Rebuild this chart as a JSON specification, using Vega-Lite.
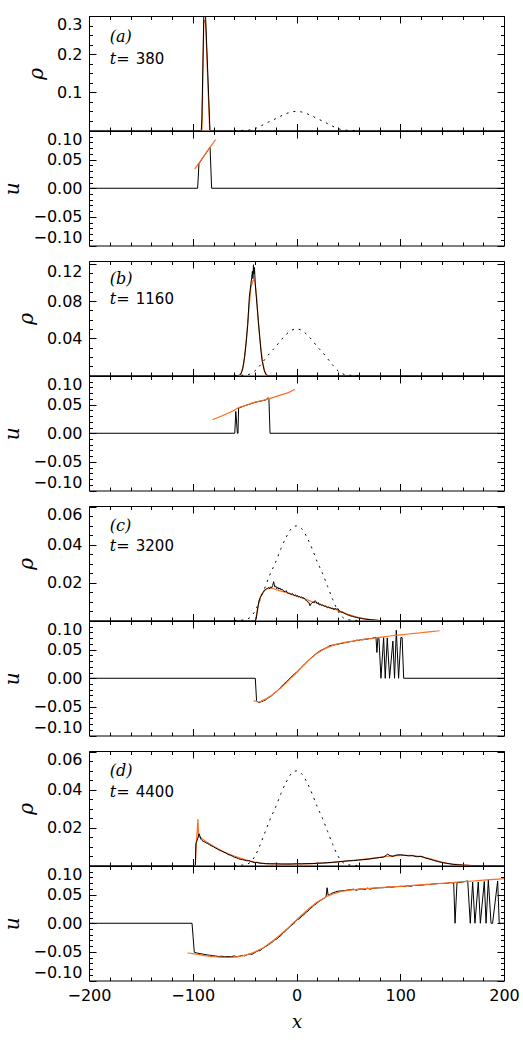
{
"$schema": "https://vega.github.io/schema/vega-lite/v6.json",
"padding": {"left": 2, "top": 15, "right": 10, "bottom": 5},
"spacing": 11,
"config": {
  "view": {"stroke": "black", "strokeWidth": 1},
  "axis": {"domain": false, "grid": false, "tickColor": "black", "tickWidth": 1, "labelColor": "black", "labelFont": "DejaVu Sans", "labelFontSize": 16, "labelOverlap": false, "labelBound": false, "titleFont": "DejaVu Serif", "titleFontStyle": "italic", "titleFontWeight": "normal", "titleFontSize": 20, "titleColor": "black", "labelPadding": 14, "titlePadding": 10}
},
"datasets": {
  "ini": [{"x":-60,"y":0},{"x":-55,"y":0.0001},{"x":-50,"y":0.0004},{"x":-45,"y":0.0015},{"x":-40,"y":0.005},{"x":-35,"y":0.011},{"x":-30,"y":0.018},{"x":-25,"y":0.025},{"x":-20,"y":0.031},{"x":-15,"y":0.038},{"x":-10,"y":0.044},{"x":-5,"y":0.0485},{"x":0,"y":0.05},{"x":5,"y":0.0485},{"x":10,"y":0.044},{"x":15,"y":0.038},{"x":20,"y":0.031},{"x":25,"y":0.025},{"x":30,"y":0.018},{"x":35,"y":0.011},{"x":40,"y":0.005},{"x":45,"y":0.0015},{"x":50,"y":0.0004},{"x":55,"y":0.0001},{"x":60,"y":0}],
  "ar_sim": [{"x":-200,"y":0},{"x":-91.8,"y":0},{"x":-91.2,"y":0.03},{"x":-89.3,"y":0.31},{"x":-87.8,"y":0.31},{"x":-85.5,"y":0.15},{"x":-83.4,"y":0},{"x":200,"y":0}],
  "ar_th": [{"x":-91.1,"y":0},{"x":-89.4,"y":0.28},{"x":-88.5,"y":0.29},{"x":-87.6,"y":0.28},{"x":-84,"y":0.02},{"x":-83.6,"y":0}],
  "ua_sim": [{"x":-200,"y":0},{"x":-95.3,"y":0},{"x":-94,"y":0.043},{"x":-83.3,"y":0.072},{"x":-81.8,"y":0},{"x":200,"y":0}],
  "ua_th": [{"x":-98,"y":0.034},{"x":-78,"y":0.085}],
  "rb_sim": [{"x":-200,"y":0},{"x":-56,"y":0},{"x":-54,"y":0.001},{"x":-52,"y":0.006},{"x":-50,"y":0.02},{"x":-48.7,"y":0.034},{"x":-47,"y":0.055},{"x":-45.5,"y":0.084},{"x":-44,"y":0.098},{"x":-43.2,"y":0.105},{"x":-42.5,"y":0.112},{"x":-42,"y":0.104},{"x":-41.5,"y":0.119},{"x":-41,"y":0.109},{"x":-40.5,"y":0.116},{"x":-39.8,"y":0.1},{"x":-39,"y":0.088},{"x":-38,"y":0.075},{"x":-36.8,"y":0.059},{"x":-35.5,"y":0.042},{"x":-34.2,"y":0.026},{"x":-33,"y":0.015},{"x":-31,"y":0.005},{"x":-29.5,"y":0.001},{"x":-28,"y":0},{"x":200,"y":0}],
  "rb_th": [{"x":-54,"y":0},{"x":-51,"y":0.012},{"x":-48.5,"y":0.035},{"x":-46,"y":0.07},{"x":-44,"y":0.094},{"x":-42,"y":0.102},{"x":-41,"y":0.103},{"x":-40,"y":0.1},{"x":-38.5,"y":0.085},{"x":-37,"y":0.06},{"x":-35,"y":0.036},{"x":-33,"y":0.017},{"x":-31,"y":0.006},{"x":-29,"y":0.001},{"x":-27,"y":0}],
  "ub_sim": [{"x":-200,"y":0},{"x":-59.5,"y":0},{"x":-58.5,"y":0.038},{"x":-57,"y":0},{"x":-56.4,"y":0},{"x":-55.8,"y":0.044},{"x":-50,"y":0.048},{"x":-45,"y":0.051},{"x":-40,"y":0.054},{"x":-35,"y":0.056},{"x":-30,"y":0.058},{"x":-28,"y":0.061},{"x":-27.2,"y":0.062},{"x":-26.6,"y":0.06},{"x":-25.5,"y":0},{"x":200,"y":0}],
  "ub_th": [{"x":-81,"y":0.024},{"x":-70,"y":0.032},{"x":-60,"y":0.04},{"x":-56.5,"y":0.044},{"x":-50,"y":0.048},{"x":-40.7,"y":0.054},{"x":-33,"y":0.057},{"x":-27.2,"y":0.06},{"x":-20,"y":0.064},{"x":-14.9,"y":0.067},{"x":-8,"y":0.071},{"x":-1.4,"y":0.077}],
  "rc_sim": [{"x":-200,"y":0},{"x":-40,"y":0},{"x":-39,"y":0.0005},{"x":-38,"y":0.004},{"x":-37,"y":0.0075},{"x":-36,"y":0.0105},{"x":-35,"y":0.012},{"x":-34,"y":0.013},{"x":-33,"y":0.0143},{"x":-32,"y":0.0148},{"x":-31,"y":0.016},{"x":-30,"y":0.0162},{"x":-29,"y":0.0168},{"x":-28,"y":0.017},{"x":-27,"y":0.0175},{"x":-26,"y":0.0168},{"x":-25,"y":0.0178},{"x":-24,"y":0.0172},{"x":-23,"y":0.0185},{"x":-22,"y":0.0205},{"x":-21,"y":0.0178},{"x":-20,"y":0.0182},{"x":-19,"y":0.0168},{"x":-18,"y":0.0176},{"x":-17,"y":0.0165},{"x":-16,"y":0.0172},{"x":-15,"y":0.0162},{"x":-14,"y":0.0166},{"x":-13,"y":0.0158},{"x":-12,"y":0.0155},{"x":-11,"y":0.0152},{"x":-10,"y":0.0158},{"x":-9,"y":0.0148},{"x":-8,"y":0.0143},{"x":-7,"y":0.0146},{"x":-6,"y":0.014},{"x":-5,"y":0.0138},{"x":-4,"y":0.0143},{"x":-3,"y":0.0135},{"x":-2,"y":0.0132},{"x":-1,"y":0.0136},{"x":0,"y":0.0128},{"x":1,"y":0.0132},{"x":2,"y":0.0124},{"x":3,"y":0.0127},{"x":4,"y":0.0121},{"x":5,"y":0.0125},{"x":6,"y":0.0117},{"x":7,"y":0.012},{"x":8,"y":0.0113},{"x":9,"y":0.0108},{"x":10,"y":0.0102},{"x":11,"y":0.0098},{"x":12,"y":0.0095},{"x":13,"y":0.0078},{"x":14,"y":0.0088},{"x":15,"y":0.0094},{"x":16,"y":0.0098},{"x":17,"y":0.0094},{"x":18,"y":0.0105},{"x":19,"y":0.0098},{"x":20,"y":0.0089},{"x":21,"y":0.0095},{"x":22,"y":0.0082},{"x":23,"y":0.0086},{"x":24,"y":0.0079},{"x":25,"y":0.0083},{"x":26,"y":0.0077},{"x":27,"y":0.0074},{"x":28,"y":0.0077},{"x":29,"y":0.007},{"x":30,"y":0.0068},{"x":31,"y":0.0072},{"x":32,"y":0.0065},{"x":33,"y":0.0067},{"x":34,"y":0.0062},{"x":35,"y":0.0066},{"x":36,"y":0.0056},{"x":37,"y":0.0064},{"x":38,"y":0.0062},{"x":39,"y":0.0058},{"x":40,"y":0.0063},{"x":41,"y":0.0052},{"x":42,"y":0.0047},{"x":43,"y":0.0043},{"x":44,"y":0.0045},{"x":46,"y":0.0038},{"x":48,"y":0.0033},{"x":50,"y":0.0028},{"x":52,"y":0.0024},{"x":54,"y":0.0022},{"x":56,"y":0.0018},{"x":58,"y":0.0016},{"x":60,"y":0.0013},{"x":62,"y":0.0012},{"x":64,"y":0.0009},{"x":66,"y":0.0008},{"x":68,"y":0.0006},{"x":70,"y":0.0005},{"x":72,"y":0.0004},{"x":75,"y":0.0002},{"x":78,"y":0.0001},{"x":80,"y":0},{"x":200,"y":0}],
  "rc_th": [{"x":-39.5,"y":0},{"x":-38,"y":0.005},{"x":-36,"y":0.0105},{"x":-34,"y":0.0135},{"x":-31,"y":0.0158},{"x":-28,"y":0.0168},{"x":-25,"y":0.0172},{"x":-22,"y":0.0168},{"x":-18,"y":0.016},{"x":-14,"y":0.0154},{"x":-10,"y":0.0148},{"x":-5,"y":0.0138},{"x":0,"y":0.0129},{"x":5,"y":0.012},{"x":10,"y":0.011},{"x":15,"y":0.0099},{"x":20,"y":0.0091},{"x":25,"y":0.0081},{"x":30,"y":0.0072},{"x":35,"y":0.0063},{"x":40,"y":0.0054},{"x":45,"y":0.0043},{"x":50,"y":0.0032},{"x":55,"y":0.0023},{"x":60,"y":0.0016},{"x":65,"y":0.001},{"x":70,"y":0.0006},{"x":75,"y":0.0003},{"x":80,"y":0}],
  "uc_sim": [{"x":-200,"y":0},{"x":-39.7,"y":0},{"x":-38.5,"y":-0.039},{"x":-37,"y":-0.042},{"x":-35.8,"y":-0.0426},{"x":-34,"y":-0.041},{"x":-32,"y":-0.0395},{"x":-30,"y":-0.038},{"x":-28,"y":-0.035},{"x":-26,"y":-0.033},{"x":-24,"y":-0.0305},{"x":-22,"y":-0.027},{"x":-20,"y":-0.024},{"x":-18,"y":-0.021},{"x":-16,"y":-0.017},{"x":-14,"y":-0.0135},{"x":-12,"y":-0.0095},{"x":-10,"y":-0.0065},{"x":-8,"y":-0.003},{"x":-6,"y":0.001},{"x":-4,"y":0.0045},{"x":-2,"y":0.0075},{"x":0,"y":0.0105},{"x":2,"y":0.014},{"x":4,"y":0.018},{"x":6,"y":0.0215},{"x":8,"y":0.025},{"x":10,"y":0.0285},{"x":12,"y":0.032},{"x":14,"y":0.0355},{"x":16,"y":0.0385},{"x":18,"y":0.0415},{"x":20,"y":0.0445},{"x":22,"y":0.047},{"x":24,"y":0.049},{"x":26,"y":0.051},{"x":28,"y":0.0525},{"x":30,"y":0.0545},{"x":32,"y":0.057},{"x":34,"y":0.0575},{"x":36,"y":0.058},{"x":38,"y":0.059},{"x":40,"y":0.0595},{"x":42,"y":0.0605},{"x":44,"y":0.061},{"x":46,"y":0.062},{"x":48,"y":0.0625},{"x":50,"y":0.0635},{"x":52,"y":0.064},{"x":54,"y":0.0645},{"x":56,"y":0.065},{"x":58,"y":0.0665},{"x":60,"y":0.066},{"x":62,"y":0.0675},{"x":64,"y":0.067},{"x":66,"y":0.0685},{"x":68,"y":0.068},{"x":70,"y":0.0695},{"x":72,"y":0.069},{"x":74,"y":0.0705},{"x":76.6,"y":0.0715},{"x":77.5,"y":0.045},{"x":78.5,"y":0.071},{"x":79.5,"y":0.069},{"x":81.4,"y":0},{"x":84,"y":0.071},{"x":85.5,"y":0},{"x":87.5,"y":0.0705},{"x":89.7,"y":0},{"x":92.9,"y":0.065},{"x":94.5,"y":0},{"x":96.2,"y":0.0838},{"x":98.4,"y":0},{"x":100.6,"y":0.071},{"x":101.8,"y":0.071},{"x":103.3,"y":0},{"x":200,"y":0}],
  "uc_th": [{"x":-41.3,"y":-0.039},{"x":-38,"y":-0.041},{"x":-36,"y":-0.0415},{"x":-33,"y":-0.039},{"x":-30,"y":-0.0365},{"x":-25,"y":-0.031},{"x":-20,"y":-0.024},{"x":-15,"y":-0.0165},{"x":-10,"y":-0.008},{"x":-5,"y":0.001},{"x":0,"y":0.0095},{"x":5,"y":0.019},{"x":10,"y":0.028},{"x":15,"y":0.0365},{"x":20,"y":0.0435},{"x":25,"y":0.0495},{"x":30,"y":0.054},{"x":35,"y":0.0575},{"x":40,"y":0.06},{"x":45,"y":0.062},{"x":50,"y":0.0635},{"x":55,"y":0.065},{"x":60,"y":0.0665},{"x":70,"y":0.069},{"x":80,"y":0.0715},{"x":90,"y":0.0738},{"x":100,"y":0.0758},{"x":110,"y":0.0777},{"x":120,"y":0.0795},{"x":130,"y":0.0815},{"x":138,"y":0.083}],
  "rd_sim": [{"x":-200,"y":0},{"x":-97.5,"y":0},{"x":-97,"y":0.0114},{"x":-96,"y":0.013},{"x":-95,"y":0.0145},{"x":-94,"y":0.0168},{"x":-93,"y":0.0155},{"x":-92,"y":0.0138},{"x":-91,"y":0.0132},{"x":-90,"y":0.0128},{"x":-89,"y":0.0126},{"x":-88,"y":0.0122},{"x":-86,"y":0.0117},{"x":-84,"y":0.011},{"x":-82,"y":0.0104},{"x":-80,"y":0.0099},{"x":-78,"y":0.0092},{"x":-76,"y":0.0086},{"x":-74,"y":0.008},{"x":-72,"y":0.0076},{"x":-70,"y":0.007},{"x":-68,"y":0.0066},{"x":-66,"y":0.0058},{"x":-64,"y":0.0055},{"x":-62,"y":0.005},{"x":-60,"y":0.0044},{"x":-58,"y":0.0041},{"x":-56,"y":0.0036},{"x":-54,"y":0.0032},{"x":-52,"y":0.0031},{"x":-50,"y":0.0028},{"x":-48,"y":0.0025},{"x":-46,"y":0.0026},{"x":-44,"y":0.0021},{"x":-42,"y":0.0018},{"x":-40,"y":0.0014},{"x":-38,"y":0.0017},{"x":-36,"y":0.0013},{"x":-34,"y":0.0012},{"x":-32,"y":0.0011},{"x":-30,"y":0.001},{"x":-25,"y":0.0009},{"x":-20,"y":0.0009},{"x":-15,"y":0.0008},{"x":-10,"y":0.0008},{"x":-5,"y":0.0008},{"x":0,"y":0.0009},{"x":5,"y":0.0009},{"x":10,"y":0.001},{"x":15,"y":0.001},{"x":20,"y":0.0012},{"x":25,"y":0.0013},{"x":30,"y":0.0015},{"x":35,"y":0.0017},{"x":40,"y":0.0019},{"x":45,"y":0.0022},{"x":50,"y":0.0025},{"x":55,"y":0.0026},{"x":60,"y":0.0029},{"x":65,"y":0.0031},{"x":70,"y":0.0034},{"x":75,"y":0.0038},{"x":80,"y":0.0042},{"x":84,"y":0.0045},{"x":88,"y":0.006},{"x":90,"y":0.0052},{"x":93,"y":0.0048},{"x":96,"y":0.0055},{"x":100,"y":0.0057},{"x":104,"y":0.0054},{"x":108,"y":0.0051},{"x":112,"y":0.0052},{"x":116,"y":0.0046},{"x":120,"y":0.0049},{"x":124,"y":0.004},{"x":128,"y":0.0034},{"x":132,"y":0.0027},{"x":136,"y":0.0021},{"x":140,"y":0.0016},{"x":145,"y":0.0011},{"x":150,"y":0.0007},{"x":155,"y":0.0004},{"x":160,"y":0.0002},{"x":168,"y":0},{"x":200,"y":0}],
  "rd_th": [{"x":-97.5,"y":0},{"x":-96.5,"y":0.012},{"x":-95,"y":0.0245},{"x":-94.5,"y":0.017},{"x":-93.5,"y":0.015},{"x":-92,"y":0.0145},{"x":-90,"y":0.0137},{"x":-88,"y":0.013},{"x":-85,"y":0.0119},{"x":-80,"y":0.0102},{"x":-75,"y":0.0087},{"x":-70,"y":0.0073},{"x":-65,"y":0.0061},{"x":-60,"y":0.005},{"x":-55,"y":0.004},{"x":-50,"y":0.0031},{"x":-45,"y":0.0024},{"x":-40,"y":0.0018},{"x":-35,"y":0.0013},{"x":-30,"y":0.001},{"x":-20,"y":0.0008},{"x":-10,"y":0.0007},{"x":0,"y":0.0008},{"x":10,"y":0.0009},{"x":20,"y":0.0011},{"x":30,"y":0.0014},{"x":40,"y":0.0019},{"x":50,"y":0.0024},{"x":60,"y":0.003},{"x":70,"y":0.0036},{"x":80,"y":0.0043},{"x":90,"y":0.005},{"x":100,"y":0.0054},{"x":110,"y":0.0053},{"x":120,"y":0.0047},{"x":130,"y":0.0034},{"x":140,"y":0.0018},{"x":150,"y":0.0008},{"x":160,"y":0.0003},{"x":170,"y":0}],
  "ud_sim": [{"x":-200,"y":0},{"x":-100.7,"y":0},{"x":-98.5,"y":-0.0507},{"x":-96,"y":-0.052},{"x":-93,"y":-0.053},{"x":-90,"y":-0.054},{"x":-87,"y":-0.055},{"x":-84,"y":-0.0558},{"x":-81,"y":-0.0565},{"x":-78,"y":-0.0572},{"x":-75,"y":-0.058},{"x":-72,"y":-0.0575},{"x":-69,"y":-0.0585},{"x":-66,"y":-0.058},{"x":-63,"y":-0.0585},{"x":-60,"y":-0.057},{"x":-58,"y":-0.0585},{"x":-55,"y":-0.0575},{"x":-52,"y":-0.056},{"x":-50,"y":-0.057},{"x":-47,"y":-0.0545},{"x":-45,"y":-0.0535},{"x":-43,"y":-0.0545},{"x":-40,"y":-0.051},{"x":-37,"y":-0.048},{"x":-35,"y":-0.048},{"x":-33,"y":-0.044},{"x":-31,"y":-0.042},{"x":-29,"y":-0.04},{"x":-27,"y":-0.0375},{"x":-25,"y":-0.035},{"x":-23,"y":-0.0325},{"x":-21,"y":-0.029},{"x":-19,"y":-0.0275},{"x":-17,"y":-0.024},{"x":-15,"y":-0.0215},{"x":-13,"y":-0.0165},{"x":-11,"y":-0.0145},{"x":-9,"y":-0.01},{"x":-7,"y":-0.0075},{"x":-5,"y":-0.0035},{"x":-3,"y":-0.0015},{"x":-1,"y":0.003},{"x":1,"y":0.0065},{"x":3,"y":0.008},{"x":5,"y":0.0125},{"x":7,"y":0.0145},{"x":9,"y":0.019},{"x":11,"y":0.021},{"x":13,"y":0.0255},{"x":15,"y":0.028},{"x":17,"y":0.0315},{"x":19,"y":0.034},{"x":21,"y":0.037},{"x":23,"y":0.0395},{"x":25,"y":0.042},{"x":27,"y":0.044},{"x":28.5,"y":0.046},{"x":29,"y":0.055},{"x":29.5,"y":0.062},{"x":30.5,"y":0.049},{"x":32,"y":0.05},{"x":34,"y":0.0525},{"x":36,"y":0.0535},{"x":38,"y":0.055},{"x":40,"y":0.056},{"x":43,"y":0.0565},{"x":46,"y":0.057},{"x":49,"y":0.058},{"x":52,"y":0.0585},{"x":55,"y":0.0595},{"x":58,"y":0.0575},{"x":60,"y":0.0595},{"x":63,"y":0.06},{"x":66,"y":0.0585},{"x":68,"y":0.0615},{"x":71,"y":0.0595},{"x":74,"y":0.061},{"x":77,"y":0.0615},{"x":80,"y":0.062},{"x":83,"y":0.062},{"x":86,"y":0.0625},{"x":89,"y":0.0635},{"x":92,"y":0.063},{"x":95,"y":0.0638},{"x":98,"y":0.0642},{"x":101,"y":0.0645},{"x":104,"y":0.064},{"x":107,"y":0.0655},{"x":110,"y":0.0645},{"x":113,"y":0.066},{"x":116,"y":0.066},{"x":119,"y":0.0665},{"x":122,"y":0.0668},{"x":125,"y":0.068},{"x":128,"y":0.0675},{"x":131,"y":0.0683},{"x":134,"y":0.069},{"x":137,"y":0.0695},{"x":140,"y":0.0693},{"x":143,"y":0.0695},{"x":146,"y":0.07},{"x":148,"y":0.071},{"x":150,"y":0.0705},{"x":151.5,"y":0.071},{"x":152.8,"y":0},{"x":154.7,"y":0.071},{"x":160,"y":0.072},{"x":165,"y":0.074},{"x":167.5,"y":0},{"x":169.8,"y":0.072},{"x":172,"y":0},{"x":175.2,"y":0.072},{"x":177.2,"y":0},{"x":181,"y":0.073},{"x":182.7,"y":0},{"x":184.9,"y":0.076},{"x":187.5,"y":0},{"x":189,"y":0},{"x":193.9,"y":0.074},{"x":195.4,"y":0},{"x":200,"y":0}],
  "ud_th": [{"x":-105,"y":-0.0519},{"x":-100,"y":-0.053},{"x":-95,"y":-0.0545},{"x":-90,"y":-0.056},{"x":-85,"y":-0.0575},{"x":-80,"y":-0.0585},{"x":-75,"y":-0.0593},{"x":-70,"y":-0.0597},{"x":-65,"y":-0.0597},{"x":-60,"y":-0.0592},{"x":-55,"y":-0.058},{"x":-50,"y":-0.0562},{"x":-45,"y":-0.0535},{"x":-40,"y":-0.05},{"x":-35,"y":-0.0455},{"x":-30,"y":-0.04},{"x":-25,"y":-0.0335},{"x":-20,"y":-0.0265},{"x":-15,"y":-0.019},{"x":-10,"y":-0.011},{"x":-5,"y":-0.0025},{"x":0,"y":0.006},{"x":5,"y":0.0145},{"x":10,"y":0.0225},{"x":15,"y":0.03},{"x":20,"y":0.037},{"x":25,"y":0.0425},{"x":30,"y":0.0475},{"x":35,"y":0.051},{"x":40,"y":0.054},{"x":45,"y":0.056},{"x":50,"y":0.0575},{"x":60,"y":0.0595},{"x":70,"y":0.061},{"x":80,"y":0.0622},{"x":90,"y":0.0635},{"x":100,"y":0.0645},{"x":110,"y":0.0657},{"x":120,"y":0.067},{"x":130,"y":0.0683},{"x":140,"y":0.0697},{"x":150,"y":0.071},{"x":160,"y":0.0725},{"x":170,"y":0.0738},{"x":180,"y":0.0752},{"x":190,"y":0.0765},{"x":200,"y":0.0778}]
},
"vconcat": [
 {"vconcat": [
  {"width": 415, "height": 114.5,
   "layer": [
    {"data": {"name": "ini"}, "mark": {"type": "line", "color": "black", "strokeWidth": 1, "strokeDash": [2, 5], "interpolate": "monotone"},
     "encoding": {"x": {"field": "x", "type": "quantitative", "scale": {"domain": [-200, 200], "nice": false, "zero": false}, "axis": {"orient": "top", "values": [-200,-180,-160,-140,-120,-100,-80,-60,-40,-20,0,20,40,60,80,100,120,140,160,180,200], "labels": false, "title": null, "tickSize": {"condition": {"test": "datum.value % 100 === 0", "value": -7}, "value": -3.5}}},
      "y": {"field": "y", "type": "quantitative", "scale": {"domain": [0, 0.3], "nice": false, "zero": false}, "axis": {"orient": "right", "values": [0,0.025,0.05,0.075,0.1,0.125,0.15,0.175,0.2,0.225,0.25,0.275,0.3], "labels": false, "title": null, "tickSize": {"condition": {"test": "abs(datum.value*10-round(datum.value*10))<0.001", "value": -7}, "value": -3.5}}}}},
    {"data": {"name": "ar_th"}, "mark": {"type": "line", "color": "#ff6d1f", "strokeWidth": 1.2, "clip": true},
     "encoding": {"x": {"field": "x", "type": "quantitative", "scale": {"domain": [-200, 200], "nice": false, "zero": false}, "axis": null}, "y": {"field": "y", "type": "quantitative", "scale": {"domain": [0, 0.3], "nice": false, "zero": false}, "axis": null}}},
    {"data": {"name": "ar_sim"}, "mark": {"type": "line", "color": "black", "strokeWidth": 1, "clip": true},
     "encoding": {"x": {"field": "x", "type": "quantitative", "scale": {"domain": [-200, 200], "nice": false, "zero": false}, "axis": {"orient": "bottom", "values": [-200,-180,-160,-140,-120,-100,-80,-60,-40,-20,0,20,40,60,80,100,120,140,160,180,200], "labels": false, "title": null, "tickSize": {"condition": {"test": "datum.value % 100 === 0", "value": -7}, "value": -3.5}}},
      "y": {"field": "y", "type": "quantitative", "scale": {"domain": [0, 0.3], "nice": false, "zero": false}, "axis": {"orient": "left", "values": [0,0.025,0.05,0.075,0.1,0.125,0.15,0.175,0.2,0.225,0.25,0.275,0.3], "title": "ρ", "labelFlush": 4, "labelExpr": "(abs(datum.value*10-round(datum.value*10))<0.001 && datum.value>0.001) ? format(datum.value, '.1f') : ''", "tickSize": {"condition": {"test": "abs(datum.value*10-round(datum.value*10))<0.001", "value": -7}, "value": -3.5}}}}},
    {"data": {"values": [{}]}, "mark": {"type": "text", "align": "left", "baseline": "middle", "font": "DejaVu Serif", "fontStyle": "italic", "fontSize": 16, "color": "black"},
     "encoding": {"x": {"datum": -180, "type": "quantitative", "axis": null}, "y": {"datum": 0.244, "type": "quantitative", "axis": null}, "text": {"value": "(a)"}}},
    {"data": {"values": [{}]}, "mark": {"type": "text", "align": "left", "baseline": "middle", "font": "DejaVu Serif", "fontStyle": "italic", "fontSize": 16, "color": "black"},
     "encoding": {"x": {"datum": -180, "type": "quantitative", "axis": null}, "y": {"datum": 0.188, "type": "quantitative", "axis": null}, "text": {"value": "t="}}},
    {"data": {"values": [{}]}, "mark": {"type": "text", "align": "left", "baseline": "middle", "font": "DejaVu Sans", "fontSize": 15, "color": "black", "dx": 26},
     "encoding": {"x": {"datum": -180, "type": "quantitative", "axis": null}, "y": {"datum": 0.188, "type": "quantitative", "axis": null}, "text": {"value": "380"}}}
   ],
   "resolve": {"axis": {"x": "independent", "y": "independent"}}},
  {"width": 415, "height": 114.5,
   "layer": [
    {"data": {"name": "ua_sim"}, "mark": {"type": "line", "color": "black", "strokeWidth": 1, "clip": true},
     "encoding": {"x": {"field": "x", "type": "quantitative", "scale": {"domain": [-200, 200], "nice": false, "zero": false}, "axis": {"orient": "bottom", "values": [-200,-180,-160,-140,-120,-100,-80,-60,-40,-20,0,20,40,60,80,100,120,140,160,180,200], "labels": false, "title": null, "tickSize": {"condition": {"test": "datum.value % 100 === 0", "value": -7}, "value": -3.5}}},
      "y": {"field": "y", "type": "quantitative", "scale": {"domain": [-0.1, 0.1], "nice": false, "zero": false}, "axis": {"orient": "left", "values": [-0.1,-0.09,-0.08,-0.07,-0.06,-0.05,-0.04,-0.03,-0.02,-0.01,0,0.01,0.02,0.03,0.04,0.05,0.06,0.07,0.08,0.09,0.1], "title": "u", "labelFlush": 4, "labelExpr": "abs(datum.value*20-round(datum.value*20))<0.001 ? format(datum.value, '.2f') : ''", "tickSize": {"condition": {"test": "abs(datum.value*20-round(datum.value*20))<0.001", "value": -7}, "value": -3.5}}}}},
    {"data": {"name": "ua_th"}, "mark": {"type": "line", "color": "#ff6d1f", "strokeWidth": 1.2, "clip": true},
     "encoding": {"x": {"field": "x", "type": "quantitative", "scale": {"domain": [-200, 200], "nice": false, "zero": false}, "axis": {"orient": "top", "values": [-200,-180,-160,-140,-120,-100,-80,-60,-40,-20,0,20,40,60,80,100,120,140,160,180,200], "labels": false, "title": null, "tickSize": {"condition": {"test": "datum.value % 100 === 0", "value": -7}, "value": -3.5}}},
      "y": {"field": "y", "type": "quantitative", "scale": {"domain": [-0.1, 0.1], "nice": false, "zero": false}, "axis": {"orient": "right", "values": [-0.1,-0.09,-0.08,-0.07,-0.06,-0.05,-0.04,-0.03,-0.02,-0.01,0,0.01,0.02,0.03,0.04,0.05,0.06,0.07,0.08,0.09,0.1], "labels": false, "title": null, "tickSize": {"condition": {"test": "abs(datum.value*20-round(datum.value*20))<0.001", "value": -7}, "value": -3.5}}}}}
   ],
   "resolve": {"axis": {"x": "independent", "y": "independent"}}}
 ], "spacing": 0, "bounds": "flush"},
 {"vconcat": [
  {"width": 415, "height": 114.5,
   "layer": [
    {"data": {"name": "ini"}, "mark": {"type": "line", "color": "black", "strokeWidth": 1, "strokeDash": [2, 5], "interpolate": "monotone"},
     "encoding": {"x": {"field": "x", "type": "quantitative", "scale": {"domain": [-200, 200], "nice": false, "zero": false}, "axis": {"orient": "top", "values": [-200,-180,-160,-140,-120,-100,-80,-60,-40,-20,0,20,40,60,80,100,120,140,160,180,200], "labels": false, "title": null, "tickSize": {"condition": {"test": "datum.value % 100 === 0", "value": -7}, "value": -3.5}}},
      "y": {"field": "y", "type": "quantitative", "scale": {"domain": [0, 0.123], "nice": false, "zero": false}, "axis": {"orient": "right", "values": [0,0.01,0.02,0.03,0.04,0.05,0.06,0.07,0.08,0.09,0.1,0.11,0.12], "labels": false, "title": null, "tickSize": {"condition": {"test": "abs(datum.value*25-round(datum.value*25))<0.001", "value": -7}, "value": -3.5}}}}},
    {"data": {"name": "rb_th"}, "mark": {"type": "line", "color": "#ff6d1f", "strokeWidth": 1.2, "clip": true},
     "encoding": {"x": {"field": "x", "type": "quantitative", "scale": {"domain": [-200, 200], "nice": false, "zero": false}, "axis": null}, "y": {"field": "y", "type": "quantitative", "scale": {"domain": [0, 0.123], "nice": false, "zero": false}, "axis": null}}},
    {"data": {"name": "rb_sim"}, "mark": {"type": "line", "color": "black", "strokeWidth": 1, "clip": true},
     "encoding": {"x": {"field": "x", "type": "quantitative", "scale": {"domain": [-200, 200], "nice": false, "zero": false}, "axis": {"orient": "bottom", "values": [-200,-180,-160,-140,-120,-100,-80,-60,-40,-20,0,20,40,60,80,100,120,140,160,180,200], "labels": false, "title": null, "tickSize": {"condition": {"test": "datum.value % 100 === 0", "value": -7}, "value": -3.5}}},
      "y": {"field": "y", "type": "quantitative", "scale": {"domain": [0, 0.123], "nice": false, "zero": false}, "axis": {"orient": "left", "values": [0,0.01,0.02,0.03,0.04,0.05,0.06,0.07,0.08,0.09,0.1,0.11,0.12], "title": "ρ", "labelFlush": 4, "labelExpr": "(abs(datum.value*25-round(datum.value*25))<0.001 && datum.value>0.001) ? format(datum.value, '.2f') : ''", "tickSize": {"condition": {"test": "abs(datum.value*25-round(datum.value*25))<0.001", "value": -7}, "value": -3.5}}}}},
    {"data": {"values": [{}]}, "mark": {"type": "text", "align": "left", "baseline": "middle", "font": "DejaVu Serif", "fontStyle": "italic", "fontSize": 16, "color": "black"},
     "encoding": {"x": {"datum": -180, "type": "quantitative", "axis": null}, "y": {"datum": 0.104, "type": "quantitative", "axis": null}, "text": {"value": "(b)"}}},
    {"data": {"values": [{}]}, "mark": {"type": "text", "align": "left", "baseline": "middle", "font": "DejaVu Serif", "fontStyle": "italic", "fontSize": 16, "color": "black"},
     "encoding": {"x": {"datum": -180, "type": "quantitative", "axis": null}, "y": {"datum": 0.0824, "type": "quantitative", "axis": null}, "text": {"value": "t="}}},
    {"data": {"values": [{}]}, "mark": {"type": "text", "align": "left", "baseline": "middle", "font": "DejaVu Sans", "fontSize": 15, "color": "black", "dx": 26},
     "encoding": {"x": {"datum": -180, "type": "quantitative", "axis": null}, "y": {"datum": 0.0824, "type": "quantitative", "axis": null}, "text": {"value": "1160"}}}
   ],
   "resolve": {"axis": {"x": "independent", "y": "independent"}}},
  {"width": 415, "height": 114.5,
   "layer": [
    {"data": {"name": "ub_sim"}, "mark": {"type": "line", "color": "black", "strokeWidth": 1, "clip": true},
     "encoding": {"x": {"field": "x", "type": "quantitative", "scale": {"domain": [-200, 200], "nice": false, "zero": false}, "axis": {"orient": "bottom", "values": [-200,-180,-160,-140,-120,-100,-80,-60,-40,-20,0,20,40,60,80,100,120,140,160,180,200], "labels": false, "title": null, "tickSize": {"condition": {"test": "datum.value % 100 === 0", "value": -7}, "value": -3.5}}},
      "y": {"field": "y", "type": "quantitative", "scale": {"domain": [-0.1, 0.1], "nice": false, "zero": false}, "axis": {"orient": "left", "values": [-0.1,-0.09,-0.08,-0.07,-0.06,-0.05,-0.04,-0.03,-0.02,-0.01,0,0.01,0.02,0.03,0.04,0.05,0.06,0.07,0.08,0.09,0.1], "title": "u", "labelFlush": 4, "labelExpr": "abs(datum.value*20-round(datum.value*20))<0.001 ? format(datum.value, '.2f') : ''", "tickSize": {"condition": {"test": "abs(datum.value*20-round(datum.value*20))<0.001", "value": -7}, "value": -3.5}}}}},
    {"data": {"name": "ub_th"}, "mark": {"type": "line", "color": "#ff6d1f", "strokeWidth": 1.2, "clip": true, "interpolate": "monotone"},
     "encoding": {"x": {"field": "x", "type": "quantitative", "scale": {"domain": [-200, 200], "nice": false, "zero": false}, "axis": {"orient": "top", "values": [-200,-180,-160,-140,-120,-100,-80,-60,-40,-20,0,20,40,60,80,100,120,140,160,180,200], "labels": false, "title": null, "tickSize": {"condition": {"test": "datum.value % 100 === 0", "value": -7}, "value": -3.5}}},
      "y": {"field": "y", "type": "quantitative", "scale": {"domain": [-0.1, 0.1], "nice": false, "zero": false}, "axis": {"orient": "right", "values": [-0.1,-0.09,-0.08,-0.07,-0.06,-0.05,-0.04,-0.03,-0.02,-0.01,0,0.01,0.02,0.03,0.04,0.05,0.06,0.07,0.08,0.09,0.1], "labels": false, "title": null, "tickSize": {"condition": {"test": "abs(datum.value*20-round(datum.value*20))<0.001", "value": -7}, "value": -3.5}}}}}
   ],
   "resolve": {"axis": {"x": "independent", "y": "independent"}}}
 ], "spacing": 0, "bounds": "flush"},
 {"vconcat": [
  {"width": 415, "height": 114.5,
   "layer": [
    {"data": {"name": "ini"}, "mark": {"type": "line", "color": "black", "strokeWidth": 1, "strokeDash": [2, 5], "interpolate": "monotone"},
     "encoding": {"x": {"field": "x", "type": "quantitative", "scale": {"domain": [-200, 200], "nice": false, "zero": false}, "axis": {"orient": "top", "values": [-200,-180,-160,-140,-120,-100,-80,-60,-40,-20,0,20,40,60,80,100,120,140,160,180,200], "labels": false, "title": null, "tickSize": {"condition": {"test": "datum.value % 100 === 0", "value": -7}, "value": -3.5}}},
      "y": {"field": "y", "type": "quantitative", "scale": {"domain": [0, 0.0605], "nice": false, "zero": false}, "axis": {"orient": "right", "values": [0,0.005,0.01,0.015,0.02,0.025,0.03,0.035,0.04,0.045,0.05,0.055,0.06], "labels": false, "title": null, "tickSize": {"condition": {"test": "abs(datum.value*50-round(datum.value*50))<0.001", "value": -7}, "value": -3.5}}}}},
    {"data": {"name": "rc_th"}, "mark": {"type": "line", "color": "#ff6d1f", "strokeWidth": 1.2, "clip": true},
     "encoding": {"x": {"field": "x", "type": "quantitative", "scale": {"domain": [-200, 200], "nice": false, "zero": false}, "axis": null}, "y": {"field": "y", "type": "quantitative", "scale": {"domain": [0, 0.0605], "nice": false, "zero": false}, "axis": null}}},
    {"data": {"name": "rc_sim"}, "mark": {"type": "line", "color": "black", "strokeWidth": 1, "clip": true},
     "encoding": {"x": {"field": "x", "type": "quantitative", "scale": {"domain": [-200, 200], "nice": false, "zero": false}, "axis": {"orient": "bottom", "values": [-200,-180,-160,-140,-120,-100,-80,-60,-40,-20,0,20,40,60,80,100,120,140,160,180,200], "labels": false, "title": null, "tickSize": {"condition": {"test": "datum.value % 100 === 0", "value": -7}, "value": -3.5}}},
      "y": {"field": "y", "type": "quantitative", "scale": {"domain": [0, 0.0605], "nice": false, "zero": false}, "axis": {"orient": "left", "values": [0,0.005,0.01,0.015,0.02,0.025,0.03,0.035,0.04,0.045,0.05,0.055,0.06], "title": "ρ", "labelFlush": 4, "labelExpr": "(abs(datum.value*50-round(datum.value*50))<0.001 && datum.value>0.001) ? format(datum.value, '.2f') : ''", "tickSize": {"condition": {"test": "abs(datum.value*50-round(datum.value*50))<0.001", "value": -7}, "value": -3.5}}}}},
    {"data": {"values": [{}]}, "mark": {"type": "text", "align": "left", "baseline": "middle", "font": "DejaVu Serif", "fontStyle": "italic", "fontSize": 16, "color": "black"},
     "encoding": {"x": {"datum": -180, "type": "quantitative", "axis": null}, "y": {"datum": 0.0497, "type": "quantitative", "axis": null}, "text": {"value": "(c)"}}},
    {"data": {"values": [{}]}, "mark": {"type": "text", "align": "left", "baseline": "middle", "font": "DejaVu Serif", "fontStyle": "italic", "fontSize": 16, "color": "black"},
     "encoding": {"x": {"datum": -180, "type": "quantitative", "axis": null}, "y": {"datum": 0.0396, "type": "quantitative", "axis": null}, "text": {"value": "t="}}},
    {"data": {"values": [{}]}, "mark": {"type": "text", "align": "left", "baseline": "middle", "font": "DejaVu Sans", "fontSize": 15, "color": "black", "dx": 26},
     "encoding": {"x": {"datum": -180, "type": "quantitative", "axis": null}, "y": {"datum": 0.0396, "type": "quantitative", "axis": null}, "text": {"value": "3200"}}}
   ],
   "resolve": {"axis": {"x": "independent", "y": "independent"}}},
  {"width": 415, "height": 114.5,
   "layer": [
    {"data": {"name": "uc_sim"}, "mark": {"type": "line", "color": "black", "strokeWidth": 1, "clip": true},
     "encoding": {"x": {"field": "x", "type": "quantitative", "scale": {"domain": [-200, 200], "nice": false, "zero": false}, "axis": {"orient": "bottom", "values": [-200,-180,-160,-140,-120,-100,-80,-60,-40,-20,0,20,40,60,80,100,120,140,160,180,200], "labels": false, "title": null, "tickSize": {"condition": {"test": "datum.value % 100 === 0", "value": -7}, "value": -3.5}}},
      "y": {"field": "y", "type": "quantitative", "scale": {"domain": [-0.1, 0.1], "nice": false, "zero": false}, "axis": {"orient": "left", "values": [-0.1,-0.09,-0.08,-0.07,-0.06,-0.05,-0.04,-0.03,-0.02,-0.01,0,0.01,0.02,0.03,0.04,0.05,0.06,0.07,0.08,0.09,0.1], "title": "u", "labelFlush": 4, "labelExpr": "abs(datum.value*20-round(datum.value*20))<0.001 ? format(datum.value, '.2f') : ''", "tickSize": {"condition": {"test": "abs(datum.value*20-round(datum.value*20))<0.001", "value": -7}, "value": -3.5}}}}},
    {"data": {"name": "uc_th"}, "mark": {"type": "line", "color": "#ff6d1f", "strokeWidth": 1.2, "clip": true, "interpolate": "monotone"},
     "encoding": {"x": {"field": "x", "type": "quantitative", "scale": {"domain": [-200, 200], "nice": false, "zero": false}, "axis": {"orient": "top", "values": [-200,-180,-160,-140,-120,-100,-80,-60,-40,-20,0,20,40,60,80,100,120,140,160,180,200], "labels": false, "title": null, "tickSize": {"condition": {"test": "datum.value % 100 === 0", "value": -7}, "value": -3.5}}},
      "y": {"field": "y", "type": "quantitative", "scale": {"domain": [-0.1, 0.1], "nice": false, "zero": false}, "axis": {"orient": "right", "values": [-0.1,-0.09,-0.08,-0.07,-0.06,-0.05,-0.04,-0.03,-0.02,-0.01,0,0.01,0.02,0.03,0.04,0.05,0.06,0.07,0.08,0.09,0.1], "labels": false, "title": null, "tickSize": {"condition": {"test": "abs(datum.value*20-round(datum.value*20))<0.001", "value": -7}, "value": -3.5}}}}}
   ],
   "resolve": {"axis": {"x": "independent", "y": "independent"}}}
 ], "spacing": 0, "bounds": "flush"},
 {"vconcat": [
  {"width": 415, "height": 114.5,
   "layer": [
    {"data": {"name": "ini"}, "mark": {"type": "line", "color": "black", "strokeWidth": 1, "strokeDash": [2, 5], "interpolate": "monotone"},
     "encoding": {"x": {"field": "x", "type": "quantitative", "scale": {"domain": [-200, 200], "nice": false, "zero": false}, "axis": {"orient": "top", "values": [-200,-180,-160,-140,-120,-100,-80,-60,-40,-20,0,20,40,60,80,100,120,140,160,180,200], "labels": false, "title": null, "tickSize": {"condition": {"test": "datum.value % 100 === 0", "value": -7}, "value": -3.5}}},
      "y": {"field": "y", "type": "quantitative", "scale": {"domain": [0, 0.0605], "nice": false, "zero": false}, "axis": {"orient": "right", "values": [0,0.005,0.01,0.015,0.02,0.025,0.03,0.035,0.04,0.045,0.05,0.055,0.06], "labels": false, "title": null, "tickSize": {"condition": {"test": "abs(datum.value*50-round(datum.value*50))<0.001", "value": -7}, "value": -3.5}}}}},
    {"data": {"name": "rd_th"}, "mark": {"type": "line", "color": "#ff6d1f", "strokeWidth": 1.2, "clip": true},
     "encoding": {"x": {"field": "x", "type": "quantitative", "scale": {"domain": [-200, 200], "nice": false, "zero": false}, "axis": null}, "y": {"field": "y", "type": "quantitative", "scale": {"domain": [0, 0.0605], "nice": false, "zero": false}, "axis": null}}},
    {"data": {"name": "rd_sim"}, "mark": {"type": "line", "color": "black", "strokeWidth": 1, "clip": true},
     "encoding": {"x": {"field": "x", "type": "quantitative", "scale": {"domain": [-200, 200], "nice": false, "zero": false}, "axis": {"orient": "bottom", "values": [-200,-180,-160,-140,-120,-100,-80,-60,-40,-20,0,20,40,60,80,100,120,140,160,180,200], "labels": false, "title": null, "tickSize": {"condition": {"test": "datum.value % 100 === 0", "value": -7}, "value": -3.5}}},
      "y": {"field": "y", "type": "quantitative", "scale": {"domain": [0, 0.0605], "nice": false, "zero": false}, "axis": {"orient": "left", "values": [0,0.005,0.01,0.015,0.02,0.025,0.03,0.035,0.04,0.045,0.05,0.055,0.06], "title": "ρ", "labelFlush": 4, "labelExpr": "(abs(datum.value*50-round(datum.value*50))<0.001 && datum.value>0.001) ? format(datum.value, '.2f') : ''", "tickSize": {"condition": {"test": "abs(datum.value*50-round(datum.value*50))<0.001", "value": -7}, "value": -3.5}}}}},
    {"data": {"values": [{}]}, "mark": {"type": "text", "align": "left", "baseline": "middle", "font": "DejaVu Serif", "fontStyle": "italic", "fontSize": 16, "color": "black"},
     "encoding": {"x": {"datum": -180, "type": "quantitative", "axis": null}, "y": {"datum": 0.0497, "type": "quantitative", "axis": null}, "text": {"value": "(d)"}}},
    {"data": {"values": [{}]}, "mark": {"type": "text", "align": "left", "baseline": "middle", "font": "DejaVu Serif", "fontStyle": "italic", "fontSize": 16, "color": "black"},
     "encoding": {"x": {"datum": -180, "type": "quantitative", "axis": null}, "y": {"datum": 0.0387, "type": "quantitative", "axis": null}, "text": {"value": "t="}}},
    {"data": {"values": [{}]}, "mark": {"type": "text", "align": "left", "baseline": "middle", "font": "DejaVu Sans", "fontSize": 15, "color": "black", "dx": 26},
     "encoding": {"x": {"datum": -180, "type": "quantitative", "axis": null}, "y": {"datum": 0.0387, "type": "quantitative", "axis": null}, "text": {"value": "4400"}}}
   ],
   "resolve": {"axis": {"x": "independent", "y": "independent"}}},
  {"width": 415, "height": 114.5,
   "layer": [
    {"data": {"name": "ud_sim"}, "mark": {"type": "line", "color": "black", "strokeWidth": 1, "clip": true},
     "encoding": {"x": {"field": "x", "type": "quantitative", "scale": {"domain": [-200, 200], "nice": false, "zero": false}, "axis": {"orient": "bottom", "values": [-200,-180,-160,-140,-120,-100,-80,-60,-40,-20,0,20,40,60,80,100,120,140,160,180,200], "title": "x", "titleFontSize": 18, "titlePadding": 6, "labelFlush": false, "labelPadding": 14, "labelExpr": "datum.value % 100 === 0 ? format(datum.value, 'd') : ''", "tickSize": {"condition": {"test": "datum.value % 100 === 0", "value": -7}, "value": -3.5}}},
      "y": {"field": "y", "type": "quantitative", "scale": {"domain": [-0.1, 0.1], "nice": false, "zero": false}, "axis": {"orient": "left", "values": [-0.1,-0.09,-0.08,-0.07,-0.06,-0.05,-0.04,-0.03,-0.02,-0.01,0,0.01,0.02,0.03,0.04,0.05,0.06,0.07,0.08,0.09,0.1], "title": "u", "labelFlush": 4, "labelExpr": "abs(datum.value*20-round(datum.value*20))<0.001 ? format(datum.value, '.2f') : ''", "tickSize": {"condition": {"test": "abs(datum.value*20-round(datum.value*20))<0.001", "value": -7}, "value": -3.5}}}}},
    {"data": {"name": "ud_th"}, "mark": {"type": "line", "color": "#ff6d1f", "strokeWidth": 1.2, "clip": true, "interpolate": "monotone"},
     "encoding": {"x": {"field": "x", "type": "quantitative", "scale": {"domain": [-200, 200], "nice": false, "zero": false}, "axis": {"orient": "top", "values": [-200,-180,-160,-140,-120,-100,-80,-60,-40,-20,0,20,40,60,80,100,120,140,160,180,200], "labels": false, "title": null, "tickSize": {"condition": {"test": "datum.value % 100 === 0", "value": -7}, "value": -3.5}}},
      "y": {"field": "y", "type": "quantitative", "scale": {"domain": [-0.1, 0.1], "nice": false, "zero": false}, "axis": {"orient": "right", "values": [-0.1,-0.09,-0.08,-0.07,-0.06,-0.05,-0.04,-0.03,-0.02,-0.01,0,0.01,0.02,0.03,0.04,0.05,0.06,0.07,0.08,0.09,0.1], "labels": false, "title": null, "tickSize": {"condition": {"test": "abs(datum.value*20-round(datum.value*20))<0.001", "value": -7}, "value": -3.5}}}}}
   ],
   "resolve": {"axis": {"x": "independent", "y": "independent"}}}
 ], "spacing": 0, "bounds": "flush"}
]
}
